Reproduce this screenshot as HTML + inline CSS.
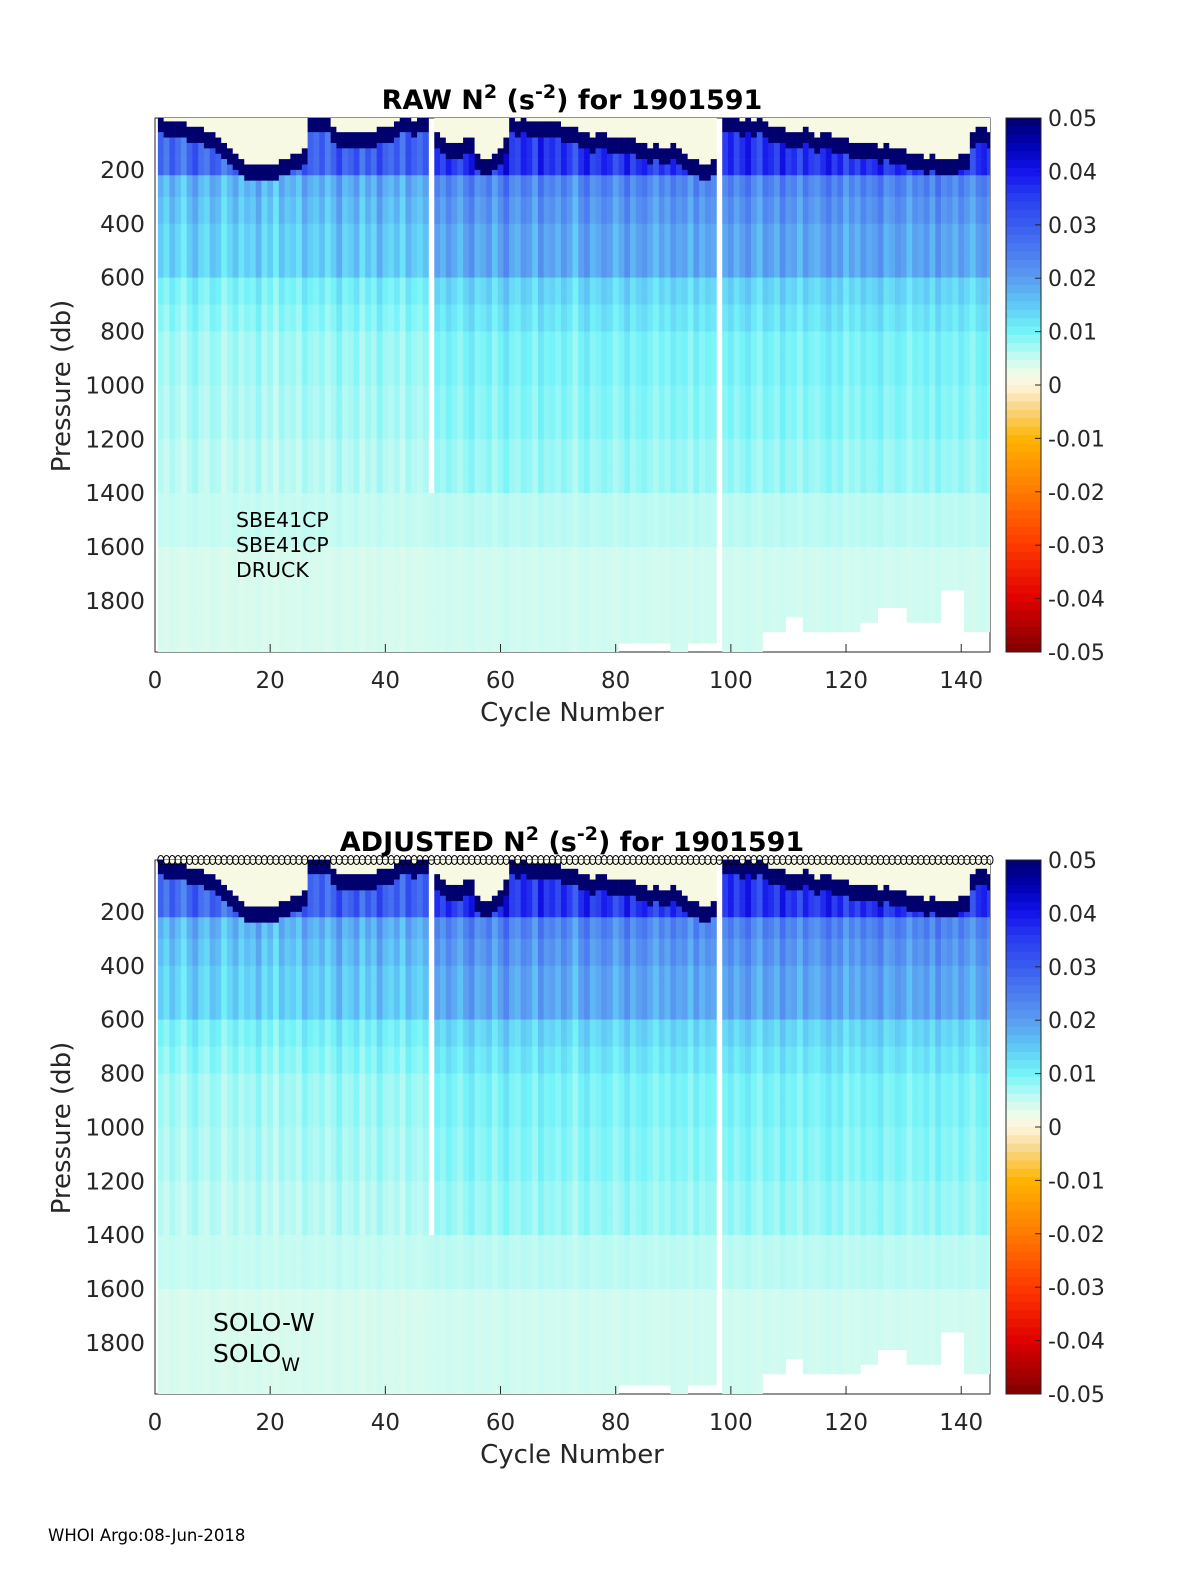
<!DOCTYPE html>
<html><head><meta charset="utf-8"><style>
body{margin:0;background:#fff;}
svg{display:block;font-family:"DejaVu Sans","Liberation Sans",sans-serif;}
</style></head><body>
<svg id="fig" width="1200" height="1575" viewBox="0 0 1200 1575" xmlns="http://www.w3.org/2000/svg">
<rect width="1200" height="1575" fill="#fff"/>
<text x="48" y="1541" font-size="16.5" fill="#000">WHOI Argo:08-Jun-2018</text>
</svg>
<script>
// ---- data ----
const cycles = Array.from({length:145},(_,i)=>i+1);
const xTicks = [0,20,40,60,80,100,120,140];
const yTicks = [200,400,600,800,1000,1200,1400,1600,1800];
const cbTicks = [0.05,0.04,0.03,0.02,0.01,0,-0.01,-0.02,-0.03,-0.04,-0.05];
const cbLabels = ["0.05","0.04","0.03","0.02","0.01","0","-0.01","-0.02","-0.03","-0.04","-0.05"];
// mean N2 profile (step): pressure bin upper bounds and values
const profP = [300,400,500,600,700,800,1000,1200,1400,1600,2000];
const profV = [0.021,0.019,0.017,0.017,0.012,0.0105,0.0088,0.008,0.007,0.0055,0.0042];
// per-cycle anomaly (x1e-3)
const cycleAnom = [-2,-4,-1,-3,-5,-2,0,-3,-4,-1,-2,-5,-3,-1,-4,-2,-3,0,-4,-2,-5,-1,-3,-2,-4,0,-2,-3,-1,-4,-2,1,-3,-2,0,-4,-1,-3,1,-2,-3,-1,-4,0,-2,-3,-1,
0,
2,0,3,1,-1,2,4,0,1,3,-1,2,5,1,0,3,2,-1,4,1,2,0,3,1,-2,2,4,0,1,3,2,-1,1,4,0,2,3,1,-1,2,0,3,1,2,-1,3,0,2,1,
0,
1,3,0,2,4,1,-1,3,2,0,4,1,2,-1,3,1,0,2,4,1,3,-1,2,0,3,1,2,4,0,1,3,2,-1,2,1,3,0,4,1,2,0,3,1,-1,2,3,1];
// surface mixed-layer depth (db)
const mld = [10,15,20,25,30, 35,40,50,60,70, 85,100,120,140,160, 175,185,190,190,185,
180,170,160,150,140,120, 5,5,8,10, 40,55,60,70,65,60,70,55,50,45,40,30, 10,5,20,5,10, 0,
60,80,100,110,100,90,80, 150,170,160,140,120,90, 10,15,10,20,15,30,20,25,30,35,40,
50,60,70,80,70,60,80,90,85,80,90, 100,110,120,100,130,120,110,130,140, 160,170,180,190,170, 0,
5,10,5,15,10,20,10,30, 40,50,45,60,70,60,50,70,80,60,70,80,75,90, 100,95,110,100,105,120,110,115,130,
130,140,150,145,160,150,155,165,170,160,150,140, 60,50,40,60];
// profile top/bottom pressures per cycle
const profTop = cycles.map(c=> c===48?1400:(c===98?9999:0));
const profBottom = [];
for(const c of cycles){
  let b=2000;
  if(c>=81&&c<=89) b=1957;
  if(c>=93&&c<=97) b=1957;
  if(c>=106&&c<=109) b=1915;
  if(c>=110&&c<=112) b=1860;
  if(c>=113&&c<=122) b=1915;
  if(c>=123&&c<=125) b=1880;
  if(c>=126&&c<=130) b=1825;
  if(c>=131&&c<=136) b=1880;
  if(c>=137&&c<=140) b=1760;
  if(c>=141&&c<=145) b=1915;
  profBottom.push(b);
}
// ---- colormap ----
const cmV=[-0.05,-0.04,-0.03,-0.02,-0.01,-0.004,0,0.002,0.005,0.01,0.015,0.02,0.025,0.03,0.035,0.04,0.045,0.05];
const cmC=["#7f0000","#e00000","#ff3a00","#ff7a00","#ffb400","#f8d890","#fff4dc","#f2fce8","#c8fbf2","#74f4f8","#60c8f6","#5a9cf0","#4c7cf0","#3a5cf0","#2a3ef0","#1414ec","#0000b4","#00006e"];
function hx(h){return [1,3,5].map(i=>parseInt(h.substr(i,2),16));}
function cmap(v){
  v=Math.max(-0.05,Math.min(0.05,v));
  for(let i=0;i<cmV.length-1;i++){
    if(v<=cmV[i+1]){const t=(v-cmV[i])/(cmV[i+1]-cmV[i]);const a=hx(cmC[i]),b=hx(cmC[i+1]);
      return "rgb("+a.map((x,k)=>Math.round(x+(b[k]-x)*t)).join(",")+")";}
  }
  return cmC[cmC.length-1];
}
function profVal(p){for(let i=0;i<profP.length;i++) if(p<profP[i]) return profV[i]; return profV[profV.length-1];}
function val(ci,p){
  const m=mld[ci];
  if(p<m) return 0.0012;
  if(p<m+60) return 0.05;
  if(p<215) return 0.033 + cycleAnom[ci]*0.002;
  const base=profVal(p);
  const w = p>1400 ? 0.4 : 1;
  return base + w*cycleAnom[ci]*0.0015*base/0.02;
}
// ---- drawing ----
const NS="http://www.w3.org/2000/svg";
const svg=document.getElementById('fig');
function el(tag,attrs,parent){const e=document.createElementNS(NS,tag);for(const k in attrs)e.setAttribute(k,attrs[k]);(parent||svg).appendChild(e);return e;}
const X0=155,X1=990,XPC=(X1-X0)/145;
const xs=v=>X0+v*XPC;
const binEdges=[];for(let p=0;p<300;p+=20)binEdges.push(p);for(let p=300;p<=2000;p+=50)binEdges.push(p);

function drawPlot(oy,title,idx){
  const ys=p=>116+oy+p*0.2694;
  const top=118+oy,bot=652+oy;
  const g=el('g',{});
  
  
  el('rect',{x:X0,y:top,width:X1-X0,height:bot-top,fill:'#fff',stroke:'#262626','stroke-width':1},g);
  const cp=el('clipPath',{id:'clip'+idx},g);
  el('rect',{x:X0,y:top,width:X1-X0,height:bot-top},cp);
  const hm=el('g',{'clip-path':'url(#clip'+idx+')'},g);
  
  
  cycles.forEach((c,ci)=>{
    for(let b=0;b<binEdges.length-1;b++){
      const p0=binEdges[b],p1=binEdges[b+1];
      if(p0<profTop[ci]||p0>=profBottom[ci])continue;
      const pe=Math.min(p1,profBottom[ci]);
      const r=el('rect',{x:xs(c-0.5).toFixed(2),y:ys(p0).toFixed(2),width:(XPC+0.3).toFixed(2),height:(ys(pe)-ys(p0)+0.3).toFixed(2),fill:cmap(val(ci,(p0+p1)/2))},hm);
      
      
    }
  });
  xTicks.forEach(v=>{
    el('line',{x1:xs(v),x2:xs(v),y1:bot,y2:bot-8,stroke:'#262626'},g);
    const t=el('text',{x:xs(v),y:bot+36,'font-size':23,'text-anchor':'middle',fill:'#262626'},g);
    t.textContent=v;
    
    
  });
  yTicks.forEach(v=>{
    const t=el('text',{x:145,y:ys(v)+8,'font-size':23.5,'text-anchor':'end',fill:'#262626'},g);
    t.textContent=v;
    
    
  });
  const xl=el('text',{x:572,y:bot+69,'font-size':26,'text-anchor':'middle',fill:'#262626'},g);
  xl.textContent='Cycle Number';
  
  
  const yl=el('text',{x:0,y:0,'font-size':26,'text-anchor':'middle',fill:'#262626',transform:'translate(70,'+(top+268)+') rotate(-90)'},g);
  yl.textContent='Pressure (db)';
  
  
  const tt=el('text',{x:572,y:top-9,'font-size':27,'font-weight':'bold','text-anchor':'middle',fill:'#000'},g);
  tt.innerHTML=title+' N<tspan dy="-11" font-size="19">2</tspan><tspan dy="11"> (s</tspan><tspan dy="-11" font-size="19">-2</tspan><tspan dy="11">) for 1901591</tspan>';
  
  
  const cbx=1006,cbw=35;
  const cb=el('g',{},g);
  
  
  const n=64;
  for(let i=0;i<n;i++){
    const v=0.05-(i+0.5)*0.1/n;
    el('rect',{x:cbx,y:(top+i*(bot-top)/n).toFixed(2),width:cbw,height:((bot-top)/n+0.5).toFixed(2),fill:cmap(v)},cb);
  }
  el('rect',{x:cbx,y:top,width:cbw,height:bot-top,fill:'none',stroke:'#262626'},cb);
  cbTicks.forEach((v,i)=>{
    const y=top+(0.05-v)/0.1*(bot-top);
    el('line',{x1:cbx+cbw,x2:cbx+cbw-6,y1:y,y2:y,stroke:'#262626'},cb);
    const t=el('text',{x:1048,y:y+8,'font-size':22,fill:'#262626'},cb);
    t.textContent=cbLabels[i];
    
    
  });
  return {top,bot};
}
drawPlot(0,'RAW',0);
const p2=drawPlot(742,'ADJUSTED',1);
[['SBE41CP',527],['SBE41CP',552],['DRUCK',577]].forEach(([s,y])=>{
  const t=el('text',{x:236,y:y,'font-size':20.5,fill:'#000'});
  t.textContent=s;
  
  
});
const s1=el('text',{x:213,y:1331,'font-size':25,fill:'#000'});
s1.textContent='SOLO-W';


const s2=el('text',{x:213,y:1362,'font-size':25,fill:'#000'});
s2.innerHTML='SOLO<tspan dy="9" font-size="19">W</tspan>';


cycles.forEach(c=>{
  const m=el('ellipse',{cx:xs(c),cy:p2.top,rx:3,ry:4.5,fill:'none',stroke:'#000','stroke-width':1});
  
  
});
</script>
</body></html>
